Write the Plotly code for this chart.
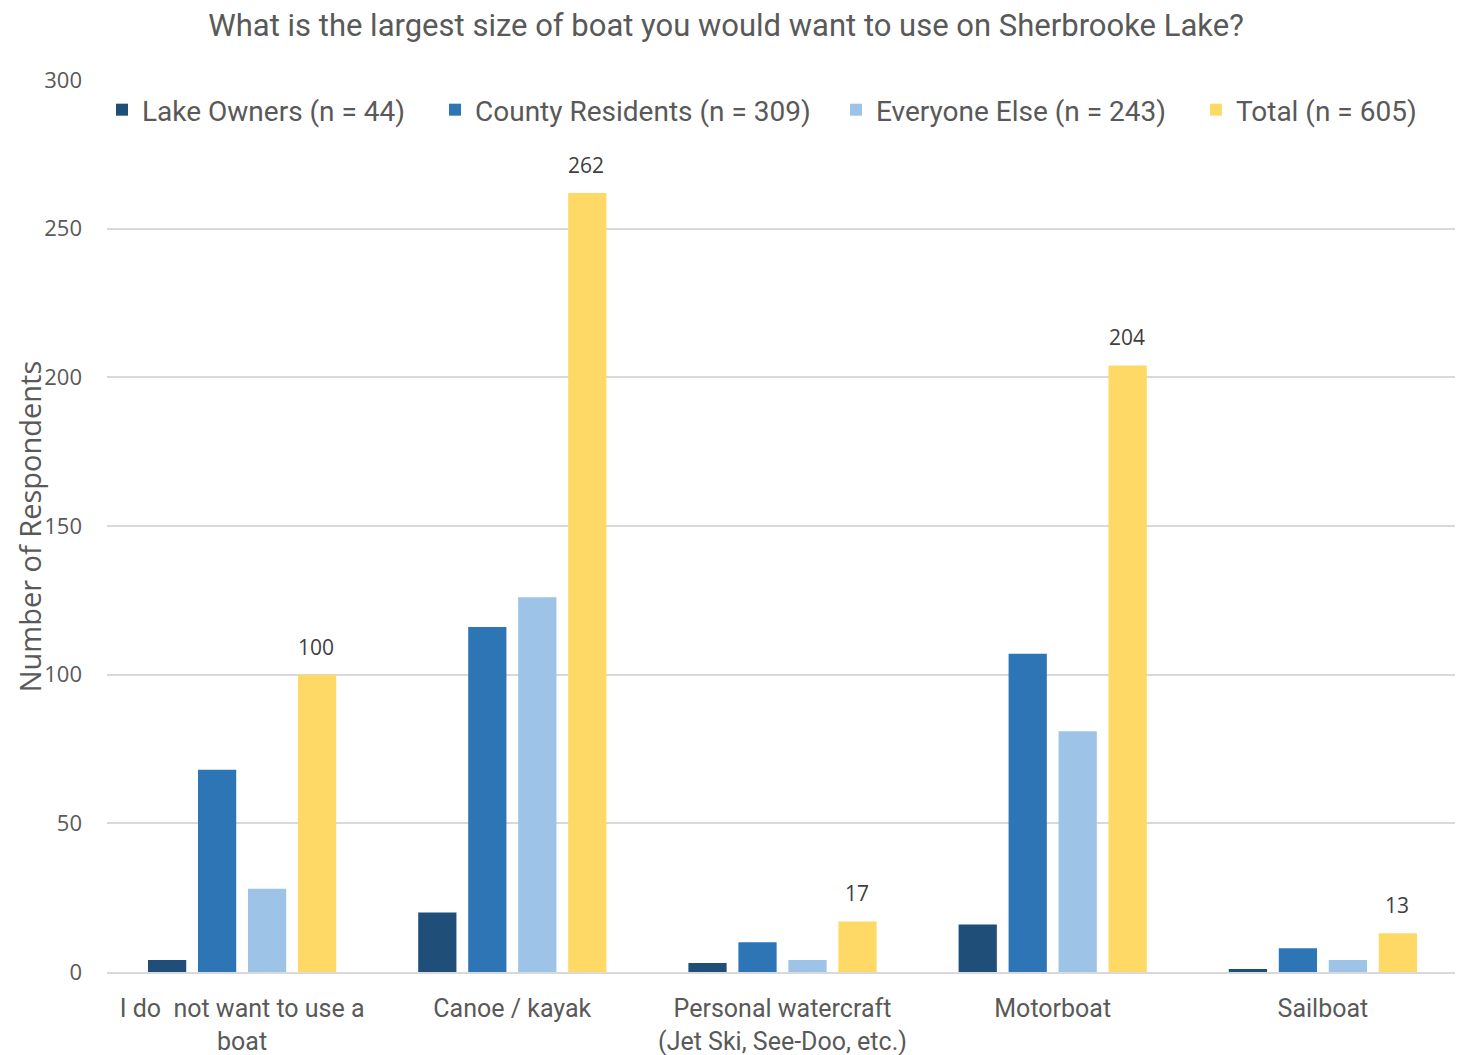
import plotly.graph_objects as go

categories = ["I do  not want to use a<br>boat", "Canoe / kayak",
              "Personal watercraft<br>(Jet Ski, See-Doo, etc.)", "Motorboat", "Sailboat"]
lake_owners = [4, 20, 3, 16, 1]
county_residents = [68, 116, 10, 107, 8]
everyone_else = [28, 126, 4, 81, 4]
total = [100, 262, 17, 204, 13]

series_names = ["Lake Owners (n = 44)", "County Residents (n = 309)",
                "Everyone Else (n = 243)", "Total (n = 605)"]
colors = ["#1F4E79", "#2E75B6", "#9DC3E6", "#FFD966"]
y_ticks = [0, 50, 100, 150, 200, 250, 300]

gray = "#595959"
legend_ids = ["legend", "legend2", "legend3", "legend4"]
legend_x = [-0.0037, 0.2428, 0.5396, 0.8060]

fig = go.Figure()
for name, vals, c, lid in zip(series_names, [lake_owners, county_residents, everyone_else, total],
                              colors, legend_ids):
    fig.add_trace(go.Bar(
        x=categories, y=vals, name=name, marker=dict(color=c, line=dict(width=0)),
        legend=lid, showlegend=True,
    ))

# data labels above the Total bars
for cat, v in zip(categories, total):
    fig.add_annotation(x=cat, y=v, text=str(v), showarrow=False, xref="x", yref="y",
                       xanchor="center", yanchor="middle", xshift=74, yshift=28,
                       font=dict(family="Open Sans", size=21, color="#404040"))

# y-axis title
fig.add_annotation(text="Number of Respondents", xref="paper", yref="paper", x=-0.0575, y=0.5,
                   xanchor="center", yanchor="middle", textangle=-90, showarrow=False,
                   font=dict(family="Open Sans", size=29, color=gray))

legend_style = dict(orientation="h", xanchor="left", y=0.9664, yanchor="middle",
                    font=dict(family="Roboto", size=28, color=gray), bgcolor="rgba(0,0,0,0)",
                    visible=True)
layout_legends = {lid: dict(x=lx, **legend_style) for lid, lx in zip(legend_ids, legend_x)}

fig.update_layout(
    barmode="group", bargap=0.26, bargroupgap=0.235,
    width=1455, height=1047, showlegend=True,
    margin=dict(l=99, r=5, t=72, b=83, autoexpand=False),
    paper_bgcolor="white", plot_bgcolor="white",
    title=dict(text="What is the largest size of boat you would want to use on Sherbrooke Lake?",
               x=0.4935, xanchor="center", y=0.984, yanchor="middle",
               font=dict(family="Roboto", size=31, color=gray)),
    **layout_legends,
)
fig.update_yaxes(range=[0, 300], tickvals=y_ticks, showgrid=True, gridcolor="#D9D9D9", gridwidth=2,
                 zeroline=False, showline=False, automargin=False,
                 tickfont=dict(family="Open Sans", size=22, color=gray), ticks="",
                 ticklabelstandoff=24)
fig.update_xaxes(showline=True, linecolor="#D9D9D9", linewidth=2, ticks="", automargin=False,
                 ticklabelstandoff=13,
                 tickfont=dict(family="Roboto", size=25, color=gray))
fig.write_html("out.html")
